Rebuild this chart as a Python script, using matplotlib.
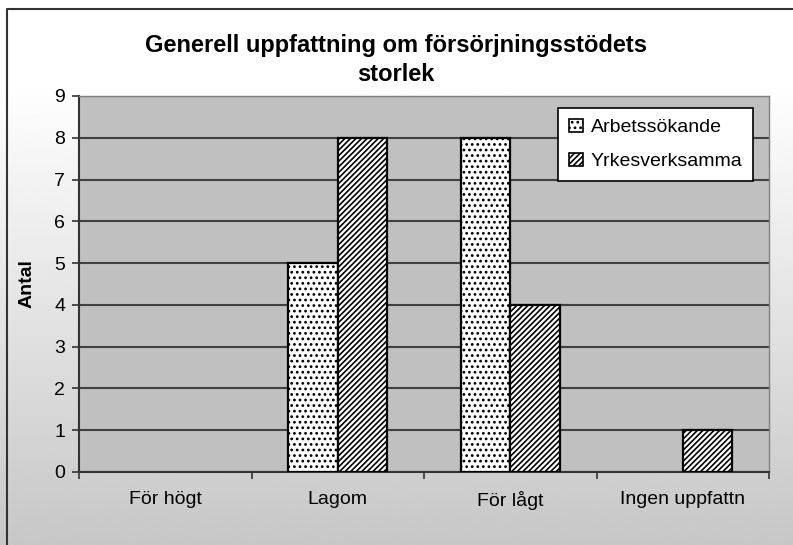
#!/usr/bin/env python3
"""Generell uppfattning om försörjningsstödets storlek - grouped bars."""

import matplotlib

matplotlib.use("Agg")
import matplotlib.pyplot as plt
import numpy as np
from matplotlib.patches import Patch

CATEGORIES = ["För högt", "Lagom", "För lågt", "Ingen uppfattn"]
ARBETSSOKANDE = [0, 5, 8, 0]
YRKESVERKSAMMA = [0, 8, 4, 1]
SERIES_LABELS = ["Arbetssökande", "Yrkesverksamma"]
SERIES_HATCHES = ["...", "//////"]
Y_TICKS = list(range(0, 10))

W, H = 793, 545

plt.rcParams["font.family"] = ["Liberation Sans", "DejaVu Sans"]
plt.rcParams["hatch.linewidth"] = 1.2
plt.rcParams["hatch.color"] = "black"

fig = plt.figure(figsize=(W / 100, H / 100), dpi=100)

# gradient background, white at the top, grey at the bottom
bg = fig.add_axes([0, 0, 1, 1], zorder=-10)
grad = np.linspace(1.0, 0.0, 256).reshape(-1, 1)
shade = 0.78 + 0.22 * np.clip(grad / 0.85, 0, 1)
bg.imshow(shade, cmap="gray", vmin=0, vmax=1, aspect="auto", extent=[0, 1, 0, 1])
bg.plot([7 / W, 7 / W, 1.0], [0.0, 1 - 9 / H, 1 - 9 / H], color="#333333", lw=1.5)
bg.set_xlim(0, 1)
bg.set_ylim(0, 1)
bg.axis("off")

ax = fig.add_axes([79 / W, 1 - 472 / H, (769 - 79) / W, (472 - 96) / H])
ax.set_facecolor("#c0c0c0")

x = np.arange(len(CATEGORIES))
w = 1 / 3.5


def edge_widths(values):
    # empty categories draw nothing at all
    return [1.6 if v > 0 else 0 for v in values]


for offset, values, hatch in zip([-w / 2, w / 2], [ARBETSSOKANDE, YRKESVERKSAMMA], SERIES_HATCHES):
    ax.bar(x + offset, values, w, color="white", edgecolor="black",
           linewidth=edge_widths(values), hatch=hatch, zorder=3)

ax.set_xlim(-0.5, len(CATEGORIES) - 0.5)
ax.set_ylim(0, 9)
ax.set_yticks(Y_TICKS)
ax.set_yticklabels([str(t) for t in Y_TICKS], fontsize=14)
ax.set_xticks(x)
ax.set_xticklabels(CATEGORIES, fontsize=14)
ax.set_xticks(np.arange(-0.5, len(CATEGORIES)), minor=True)
ax.tick_params(axis="x", which="major", length=0, pad=14)
ax.tick_params(axis="x", which="minor", length=5, width=1.2, color="#333333")
ax.tick_params(axis="y", length=5, width=1.2, color="#333333", direction="out", pad=5)
ax.grid(axis="y", color="#404040", lw=1.5, zorder=1)
for side in ["top", "right"]:
    ax.spines[side].set_color("#808080")
    ax.spines[side].set_linewidth(1)
for side in ["left", "bottom"]:
    ax.spines[side].set_color("#333333")
    ax.spines[side].set_linewidth(1.5)

ax.set_ylabel("Antal", fontsize=14, fontweight="bold")
ax.yaxis.set_label_coords((36 - 79) / (769 - 79), 0.5)
fig.text(396 / W, 1 - 60 / H, "Generell uppfattning om försörjningsstödets\nstorlek",
         ha="center", va="center", fontsize=17, fontweight="bold", linespacing=1.3)

handles = [Patch(facecolor="white", edgecolor="black", linewidth=1.2, hatch=h, label=lab)
           for h, lab in zip(SERIES_HATCHES, SERIES_LABELS)]
leg = ax.legend(handles=handles, loc="upper right", bbox_to_anchor=(753 / W, 1 - 108 / H),
                bbox_transform=fig.transFigure, borderaxespad=0, fontsize=14,
                frameon=True, fancybox=False, shadow=False, handlelength=0.7,
                handleheight=0.7, handletextpad=0.4, labelspacing=0.85,
                borderpad=0.55)
leg.get_frame().set_edgecolor("black")
leg.get_frame().set_linewidth(1.2)
leg.get_frame().set_facecolor("white")
leg.get_frame().set_alpha(1)

fig.savefig("out.png", dpi=100)
